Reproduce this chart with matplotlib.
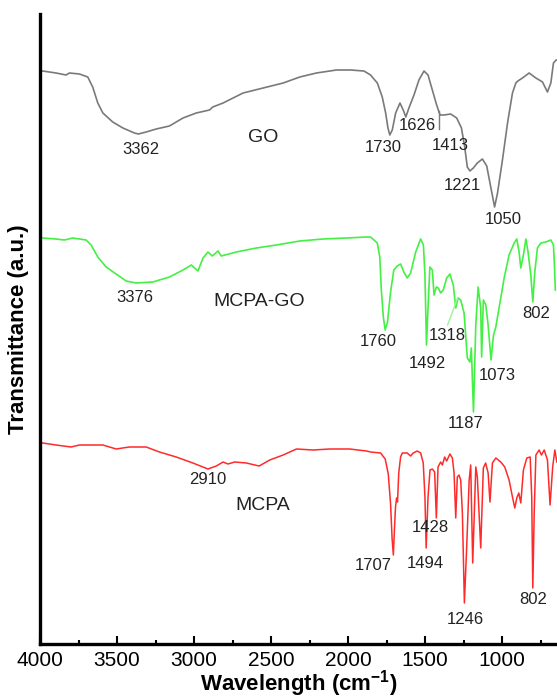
import numpy as np
import matplotlib
matplotlib.use("Agg")
import matplotlib.pyplot as plt
from matplotlib.ticker import MultipleLocator

plt.rcParams['font.family'] = ['Liberation Sans', 'DejaVu Sans']
plt.rcParams['mathtext.fontset'] = 'custom'
plt.rcParams['mathtext.rm'] = 'Liberation Sans'
plt.rcParams['mathtext.bf'] = 'Liberation Sans:bold'

# FTIR spectra (wavenumber in cm-1, transmittance in a.u.)
go_wn = [3983, 3896, 3831, 3809, 3744, 3690, 3658, 3625, 3592, 3528, 3462, 3387, 3362,
         3311, 3246, 3160, 3072, 2986, 2900, 2879, 2812, 2682, 2552, 2422, 2314, 2206,
         2076, 1985, 1898, 1855, 1811, 1779, 1757, 1742, 1730, 1714, 1692, 1664, 1643,
         1626, 1606, 1573, 1541, 1508, 1482, 1454, 1426, 1404, 1378, 1335, 1296, 1265,
         1244, 1227, 1210, 1188, 1162, 1129, 1101, 1075, 1050, 1031, 999, 966, 934, 912,
         899, 869, 826, 782, 739, 707, 685, 668, 650]
go_t = [153, 151, 149, 151, 150, 147, 137, 121, 111, 102, 96, 91, 90,
        92, 95, 98, 106, 111, 114, 117, 121, 131, 136, 141, 147, 151,
        154, 154, 153, 149, 141, 127, 111, 96, 89, 94, 111, 121, 114,
        107, 116, 129, 144, 153, 149, 134, 119, 109, 109, 110, 106, 96,
        77, 57, 53, 56, 61, 65, 58, 37, 17, 31, 64, 101, 131, 141,
        143, 146, 151, 146, 142, 132, 141, 161, 164]

mcpa_go_wn = [3983, 3896, 3842, 3788, 3701, 3668, 3625, 3571, 3506, 3441, 3376, 3268,
              3160, 3072, 3018, 2975, 2942, 2910, 2882, 2845, 2824, 2726, 2596, 2466,
              2314, 2163, 2011, 1881, 1855, 1811, 1795, 1785, 1772, 1760, 1745, 1725,
              1704, 1682, 1660, 1639, 1617, 1595, 1562, 1530, 1512, 1502, 1492, 1482,
              1470, 1454, 1443, 1428, 1415, 1400, 1383, 1361, 1340, 1318, 1302, 1287,
              1270, 1248, 1227, 1210, 1201, 1187, 1172, 1157, 1140, 1134, 1123, 1107,
              1092, 1073, 1057, 1042, 1021, 988, 956, 923, 906, 891, 880, 863, 847,
              833, 815, 802, 789, 772, 750, 718, 685, 668, 662, 656]
mcpa_go_t = [186, 185, 184, 186, 184, 179, 167, 157, 150, 143, 141, 142,
             147, 154, 159, 153, 166, 172, 168, 173, 168, 172, 176, 179,
             183, 185, 186, 187, 187, 181, 167, 134, 107, 94, 102, 132,
             154, 158, 160, 152, 146, 151, 172, 185, 179, 149, 79, 116,
             157, 154, 129, 137, 136, 131, 134, 146, 150, 139, 116, 126,
             124, 111, 66, 62, 76, 12, 99, 137, 116, 67, 124, 119,
             99, 64, 89, 97, 116, 146, 169, 181, 185, 172, 156, 169, 185,
             172, 149, 122, 152, 176, 181, 182, 184, 179, 160, 134]

mcpa_wn = [3983, 3896, 3799, 3744, 3592, 3506, 3420, 3311, 3225, 3116, 3008, 2910,
           2856, 2812, 2780, 2737, 2661, 2578, 2509, 2422, 2336, 2227, 2120, 1990,
           1881, 1855, 1790, 1760, 1740, 1725, 1715, 1707, 1700, 1693, 1686, 1680,
           1672, 1660, 1649, 1617, 1595, 1578, 1552, 1530, 1513, 1502, 1494, 1482,
           1469, 1454, 1439, 1428, 1417, 1400, 1389, 1374, 1361, 1340, 1324, 1313,
           1302, 1292, 1281, 1270, 1259, 1246, 1231, 1215, 1205, 1192, 1172, 1162,
           1140, 1123, 1108, 1092, 1080, 1064, 1042, 1010, 984, 956, 934, 919, 906,
           893, 880, 863, 841, 819, 809, 802, 793, 782, 761, 746, 728, 707, 690, 673,
           659, 646]
mcpa_t = [171, 169, 167, 169, 169, 165, 167, 167, 162, 157, 151, 145,
          148, 152, 150, 152, 151, 148, 154, 159, 165, 164, 165, 165,
          163, 162, 161, 155, 140, 110, 75, 59, 84, 107, 116, 112,
          141, 157, 161, 161, 158, 161, 163, 161, 151, 117, 66, 117,
          144, 145, 142, 96, 147, 152, 149, 157, 153, 160, 156, 141,
          96, 137, 139, 134, 101, 11, 67, 134, 149, 51, 147, 137,
          66, 146, 151, 141, 112, 151, 156, 152, 147, 134, 117, 106, 116,
          121, 111, 144, 156, 157, 117, 26, 101, 159, 164, 159, 164, 154, 109, 147,
          164, 152]

# (text, wavenumber, y) for peak annotations, stacked y units
go_labels = [("3362", 3344, 494), ("1730", 1770, 497), ("1626", 1552, 518),
             ("1413", 1335, 498), ("1221", 1259, 459), ("1050", 992, 424)]
mcpa_go_labels = [("3376", 3387, 347), ("1760", 1803, 302), ("1492", 1489, 281),
                  ("1318", 1359, 308), ("1073", 1034, 269), ("1187", 1240, 221),
                  ("802", 781, 330)]
mcpa_labels = [("2910", 2911, 164), ("1428", 1468, 117), ("1494", 1500, 81),
               ("1707", 1836, 78), ("1246", 1240, 24), ("802", 797, 44)]

offsets = {"GO": 420, "MCPA-GO": 220, "MCPA": 30}

fig = plt.figure(figsize=(5.57, 6.99), dpi=100)
ax = fig.add_axes([40 / 557, 55 / 699, 517 / 557, 630 / 699])

ax.plot(go_wn, np.array(go_t) + offsets["GO"], color='#7a7a7a', lw=1.2)
ax.plot(mcpa_go_wn, np.array(mcpa_go_t) + offsets["MCPA-GO"], color='#44f044', lw=1.2)
ax.plot(mcpa_wn, np.array(mcpa_t) + offsets["MCPA"], color='#ff2a2a', lw=1.1)

# marker at 1413 on the GO trace and leader to the 1318 band
y1413 = np.interp(1413, go_wn[::-1], go_t[::-1]) + offsets["GO"]
ax.plot([1413, 1413], [y1413, y1413 - 18], color='#7a7a7a', lw=1.0)
ax.plot([1355, 1290], [319, 346], color='#9af59a', lw=1.0)

for labels in (go_labels, mcpa_go_labels, mcpa_labels):
    for txt, wn, y in labels:
        ax.text(wn, y, txt, ha='center', va='center', fontsize=12, color='#222222')

ax.text(2554, 507, "GO", ha='center', va='center', fontsize=14, color='#222222')
ax.text(2575, 342, "MCPA-GO", ha='center', va='center', fontsize=14, color='#222222')
ax.text(2552, 139, "MCPA", ha='center', va='center', fontsize=14, color='#222222')

ax.set_xlim(4000, 645)
ax.set_ylim(0, 630)
ax.xaxis.set_major_locator(MultipleLocator(500))
ax.xaxis.set_minor_locator(MultipleLocator(250))
ax.set_yticks([])
ax.tick_params(axis='x', which='major', direction='in', length=6, width=1.5,
               labelsize=15, pad=5)
ax.tick_params(axis='x', which='minor', direction='in', length=3, width=1.5)

for side in ('top', 'right'):
    ax.spines[side].set_visible(False)
for side in ('left', 'bottom'):
    ax.spines[side].set_linewidth(2.4)

ax.set_xlabel(r'Wavelength (cm$^{\mathbf{-1}}$)', fontsize=16, fontweight='bold', labelpad=-1)
ax.set_ylabel('Transmittance (a.u.)', fontsize=16, fontweight='bold', labelpad=8)

fig.savefig('out.png', dpi=100)
